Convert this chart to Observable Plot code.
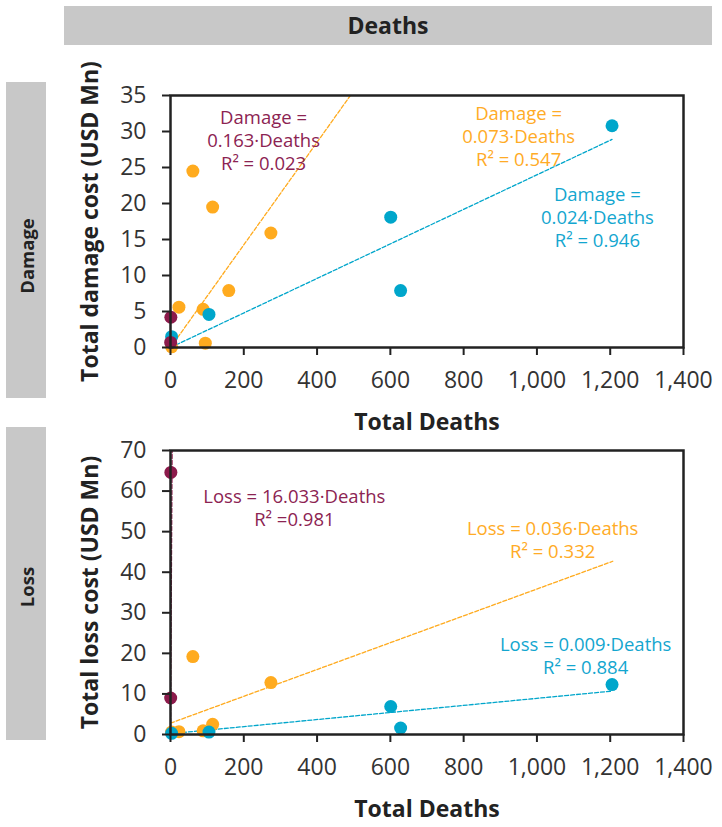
<!DOCTYPE html>
<html>
<head>
<meta charset="utf-8">
<script src="https://cdn.jsdelivr.net/npm/d3@7"></script>
<script src="https://cdn.jsdelivr.net/npm/@observablehq/plot@0.6"></script>
<style>
  html, body { margin: 0; padding: 0; background: #fff; }
  #wrap { position: relative; width: 722px; height: 827px; font-family: "Open Sans", sans-serif; }
  .box { position: absolute; background: #c8c8c8; color: #222; font-weight: bold; }
  .vlab { position: absolute; left: 50%; transform: translate(-50%, -50%) rotate(-90deg); white-space: nowrap; font-size: 18.5px; }
  .panel { position: absolute; left: 50px; }
  .panel svg { overflow: visible; }
</style>
</head>
<body>
<div id="wrap">
  <div class="box" style="left:64px;top:6px;width:648px;height:39px;line-height:39px;text-align:center;font-size:23px;">Deaths</div>
  <div class="box" style="left:6px;top:82px;width:40px;height:316px;"><span class="vlab" style="top:174px;">Damage</span></div>
  <div class="box" style="left:6px;top:427px;width:40px;height:313px;"><span class="vlab" style="top:160px;">Loss</span></div>
  <div class="panel" id="top" style="top:50px;"></div>
  <div class="panel" id="bottom" style="top:415px;"></div>
</div>
<script>
// ---- data ----
const seriesNames = ["S1", "S2", "S3"];           // teal, orange, maroon groups
const seriesColors = ["#00a6cb", "#ffab1f", "#8c1a4b"];
const textColors = ["#13a6cf", "#ffab26", "#8c2352"];

const tealDeaths = [1205, 601, 628, 105, 3];
const tealDamage = [30.8, 18.1, 7.9, 4.6, 1.5];
const tealLoss   = [12.3, 6.9, 1.6, 0.6, 0.3];

const orangeDeaths = [61, 115, 274, 159, 23, 89, 95, 3];
const orangeDamage = [24.5, 19.5, 15.9, 7.9, 5.6, 5.3, 0.6, 0.1];
const orangeLoss   = [19.2, 2.5, 12.8, null, 0.7, 0.9, null, 0.6];

const maroonDeaths = [1, 0.5];
const maroonDamage = [4.2, 0.7];
const maroonLoss   = [64.6, 9.0];

// trend line endpoints [x0, y0, x1, y1]
const damageTrendTeal   = [0, 0, 1205, 28.9];
const damageTrendOrange = [0, 0, 491, 35];
const damageTrendMaroon = [0, 0, 4, 0.65];
const lossTrendTeal     = [0, 0.2, 1205, 10.7];
const lossTrendOrange   = [0, 2.8, 1207, 42.7];
const lossTrendMaroon   = [0, 0, 4.4, 70];

const xTicks = [0, 200, 400, 600, 800, 1000, 1200, 1400];
const damageTicks = [0, 5, 10, 15, 20, 25, 30, 35];
const lossTicks = [0, 10, 20, 30, 40, 50, 60, 70];

const damageLabels = [
  "Damage =\n0.024·Deaths\nR² = 0.946",
  "Damage =\n0.073·Deaths\nR² = 0.547",
  "Damage =\n0.163·Deaths\nR² = 0.023"
];
const damageLabelX = [1165, 950, 254];
const damageLabelY = [18.2, 29.4, 28.9];

const lossLabels = [
  "Loss = 0.009·Deaths\nR² = 0.884",
  "Loss = 0.036·Deaths\nR² = 0.332",
  "Loss = 16.033·Deaths\nR² =0.981"
];
const lossLabelX = [1133, 1043, 338];
const lossLabelY = [19.6, 48.2, 56];

// ---- build tables ----
function points(deaths, vals, s) {
  return deaths.map((d, i) => ({x: d, y: vals[i], s})).filter(p => p.y != null);
}
function trend(t, s) { return [{x: t[0], y: t[1], s}, {x: t[2], y: t[3], s}]; }

const damagePoints = [
  ...points(orangeDeaths, orangeDamage, "S2"),
  ...points(tealDeaths, tealDamage, "S1"),
  ...points(maroonDeaths, maroonDamage, "S3")
];
const lossPoints = [
  ...points(orangeDeaths, orangeLoss, "S2"),
  ...points(tealDeaths, tealLoss, "S1"),
  ...points(maroonDeaths, maroonLoss, "S3")
];
const damageTrends = [...trend(damageTrendTeal, "S1"), ...trend(damageTrendOrange, "S2"), ...trend(damageTrendMaroon, "S3")];
const lossTrends = [...trend(lossTrendTeal, "S1"), ...trend(lossTrendOrange, "S2"), ...trend(lossTrendMaroon, "S3")];

const damageAnn = damageLabels.map((t, i) => ({t, x: damageLabelX[i], y: damageLabelY[i], c: textColors[i]}));
const lossAnn = lossLabels.map((t, i) => ({t, x: lossLabelX[i], y: lossLabelY[i], c: textColors[i]}));

function panel({height, marginTop, yDomain, yTicks, pts, trends, ann, yTitle}) {
  return Plot.plot({
    width: 672, height, marginLeft: 120, marginRight: 39, marginTop, marginBottom: 93,
    style: {fontFamily: "Open Sans", fontSize: "23px", color: "#333", background: "transparent", overflow: "visible"},
    x: {domain: [0, 1400], label: null},
    y: {domain: yDomain, label: null},
    color: {type: "categorical", domain: seriesNames, range: seriesColors},
    marks: [
      Plot.line(trends, {x: "x", y: "y", z: "s", stroke: "s", strokeWidth: 1.3, strokeDasharray: "4,2", clip: true}),
      Plot.dot(pts, {x: "x", y: "y", fill: "s", r: 6.5}),
      Plot.frame({stroke: "#222", strokeWidth: 2.5}),
      Plot.axisX({ticks: xTicks, tickSize: 8, tickPadding: 16, tickFormat: d3.format(","), stroke: "#222", strokeWidth: 2, fill: "#333", label: null}),
      Plot.axisY({ticks: yTicks, tickSize: 8, tickPadding: 16, stroke: "#222", strokeWidth: 2, fill: "#333", label: null}),
      Plot.text(ann, {x: "x", y: "y", text: "t", fill: "c", fontSize: 18.5, lineHeight: 1.24, lineAnchor: "middle"}),
      Plot.text(["Total Deaths"], {frameAnchor: "bottom", dy: 75, lineAnchor: "middle", textAnchor: "middle", fontWeight: "bold", fontSize: 23, fill: "#222"}),
      Plot.text([yTitle], {frameAnchor: "left", dx: -80, rotate: -90, lineAnchor: "middle", textAnchor: "middle", fontWeight: "bold", fontSize: 23, fill: "#222"})
    ]
  });
}

document.getElementById("top").append(panel({
  height: 390, marginTop: 45, yDomain: [0, 35], yTicks: damageTicks,
  pts: damagePoints, trends: damageTrends, ann: damageAnn, yTitle: "Total damage cost (USD Mn)"
}));
document.getElementById("bottom").append(panel({
  height: 412, marginTop: 35, yDomain: [0, 70], yTicks: lossTicks,
  pts: lossPoints, trends: lossTrends, ann: lossAnn, yTitle: "Total loss cost (USD Mn)"
}));
</script>
</body>
</html>
